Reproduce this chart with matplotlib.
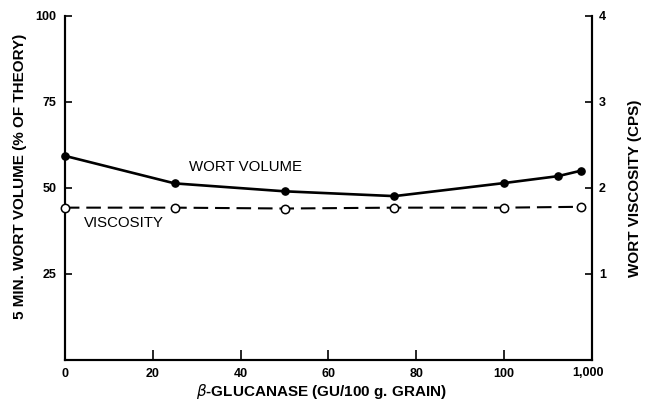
import numpy as np
import matplotlib
matplotlib.use("Agg")
import matplotlib.pyplot as plt
from matplotlib.transforms import ScaledTranslation

# enzyme dose, GU/100 g grain (axis is linear to 100, log-compressed above)
dose_volume = [0, 25, 50, 75, 100, 500, 1000]
wort_volume = [59.3, 51.3, 49.0, 47.6, 51.4, 53.4, 55.0]   # % of theory

dose_visc = [0, 25, 50, 75, 100, 1000]
viscosity = [1.77, 1.77, 1.76, 1.77, 1.77, 1.78]            # cps

x_ticks = [0, 20, 40, 60, 80, 100, 1000]
x_ticklabels = ["0", "20", "40", "60", "80", "100", "1,000"]


def fwd(x):
    x = np.asarray(x, float)
    return np.where(x <= 100, x, 100 + 17.5 * np.log10(np.maximum(x, 100) / 100))


def inv(p):
    p = np.asarray(p, float)
    return np.where(p <= 100, p, 100 * 10 ** ((np.maximum(p, 100) - 100) / 17.5))


plt.rcParams["font.family"] = ["Liberation Sans", "DejaVu Sans"]

fig = plt.figure(figsize=(6.55, 4.04), dpi=100)
ax = fig.add_axes([0.099, 0.109, 0.805, 0.852])
ax.set_xscale("function", functions=(fwd, inv))
ax.set_xlim(0, float(inv(120)))
ax.set_ylim(0, 100)

ax.plot(dose_volume, wort_volume, color="black", lw=1.9, marker="o",
        ms=5.2, clip_on=False, zorder=3)

ax2 = ax.twinx()
ax2.set_ylim(0, 4)
ax2.plot(dose_visc, viscosity, color="black", lw=1.5, ls=(0, (7, 3.3)),
         marker="o", ms=6, mfc="white", mec="black", mew=1.1,
         clip_on=False, zorder=3)

ax.text(28.2, 56.0, "WORT VOLUME", fontsize=10.8, va="center", ha="left")
ax.text(4.3, 39.7, "VISCOSITY", fontsize=10.8, va="center", ha="left")

for a in (ax, ax2):
    a.spines["top"].set_visible(False)
    for s in a.spines.values():
        s.set_linewidth(1.5)

ax.set_xticks(x_ticks)
ax.set_xticklabels(x_ticklabels, fontsize=9, fontweight="bold")
ax.xaxis.get_major_ticks()[-1].tick1line.set_visible(False)
ax.xaxis.get_major_ticks()[0].tick1line.set_visible(False)
ax.tick_params(axis="x", direction="in", length=7, width=1.2, pad=6)
ax.xaxis.set_minor_locator(plt.NullLocator())
# the "1,000" label sits a little right of its point in the original
last = ax.get_xticklabels()[-1]
last.set_transform(last.get_transform() + ScaledTranslation(0.07, 0.01, fig.dpi_scale_trans))

ax.set_yticks([25, 50, 75, 100])
ax.set_yticklabels(["25", "50", "75", "100"], fontsize=9, fontweight="bold")
ax.tick_params(axis="y", direction="in", length=5, width=1.2, pad=6)

ax2.set_yticks([1, 2, 3, 4])
ax2.set_yticklabels(["1", "2", "3", "4"], fontsize=9, fontweight="bold")
ax2.tick_params(axis="y", direction="in", length=5, width=1.2, pad=5)

ax.set_xlabel(r"$\beta$-GLUCANASE (GU/100 g. GRAIN)", fontsize=11,
              fontweight="bold")
ax.set_ylabel("5 MIN. WORT VOLUME (% OF THEORY)", fontsize=11,
              fontweight="bold")
ax2.set_ylabel("WORT VISCOSITY (CPS)", fontsize=11, fontweight="bold")

ax.xaxis.set_label_coords(0.486, -0.093)
ax.xaxis.label.set_va("center")
ax.yaxis.set_label_coords(-0.085, 0.533)
ax.yaxis.label.set_va("center")
ax2.yaxis.set_label_coords(1.082, 0.5)
ax2.yaxis.label.set_va("center")

fig.savefig("out.png", dpi=100)
